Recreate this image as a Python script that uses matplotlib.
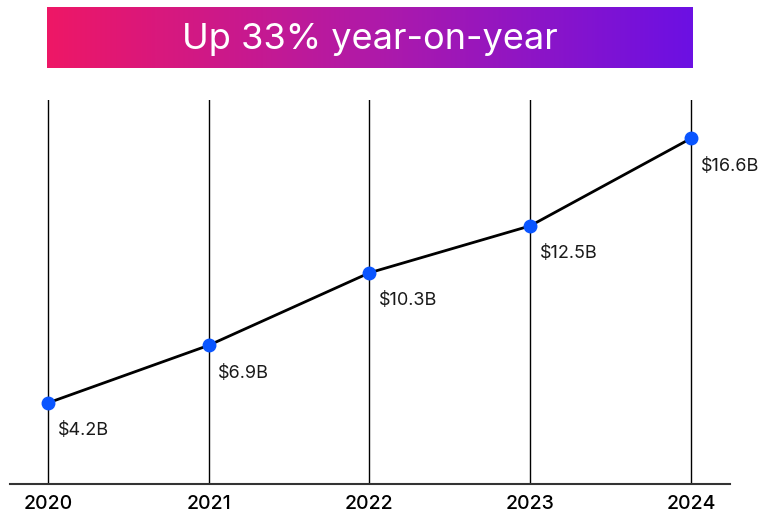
import numpy as np
import matplotlib
matplotlib.use("Agg")
import matplotlib.pyplot as plt
from matplotlib.colors import LinearSegmentedColormap

# Revenue by year (billions of dollars)
years = [2020, 2021, 2022, 2023, 2024]
revenue = [4.2, 6.9, 10.3, 12.5, 16.6]
labels = ["$4.2B", "$6.9B", "$10.3B", "$12.5B", "$16.6B"]
title = "Up 33% year-on-year"

plt.rcParams['font.family'] = ['Inter', 'DejaVu Sans']

W, H = 783, 516
fig = plt.figure(figsize=(W / 100, H / 100), dpi=100)


def px_rect(x0, y0, x1, y1):
    # pixel box (top-left origin) -> figure fraction rect
    return [x0 / W, 1 - y1 / H, (x1 - x0) / W, (y1 - y0) / H]


# Gradient banner
ban = fig.add_axes(px_rect(47, 7, 693, 68))
cmap = LinearSegmentedColormap.from_list("banner", ["#EE1766", "#B01AA8", "#6C10E3"])
ban.imshow(np.linspace(0, 1, 256)[None, :], aspect='auto', cmap=cmap,
           extent=[0, 1, 0, 1])
ban.set_xlim(0, 1)
ban.set_ylim(0, 1)
ban.axis('off')
ban.text(0.5, 0.47, title, color='white', fontsize=26, ha='center', va='center')

# Line chart
ax = fig.add_axes(px_rect(10, 100, 730, 484))
ax.set_xlim(2019.764, 2024.243)
ax.set_ylim(0.4, 18.4)

for yr in years:
    ax.axvline(yr, color='black', lw=1.0, zorder=1)

ax.plot(years, revenue, color='black', lw=2, zorder=2)
ax.plot(years, revenue, 'o', color='#0A55FF', ms=9, zorder=3)

for yr, val, lab in zip(years, revenue, labels):
    ax.annotate(lab, (yr, val), xytext=(7, -14), textcoords='offset points',
                ha='left', va='top', fontsize=13, color='#1a1a1a')

for side in ['top', 'right', 'left']:
    ax.spines[side].set_visible(False)
ax.spines['bottom'].set_color('#333333')
ax.spines['bottom'].set_linewidth(1.5)
ax.set_yticks([])
ax.set_xticks(years)
ax.set_xticklabels([str(y) for y in years], fontsize=14, fontweight='medium')
ax.tick_params(axis='x', length=0, pad=8)

fig.savefig("out.png", dpi=100)
